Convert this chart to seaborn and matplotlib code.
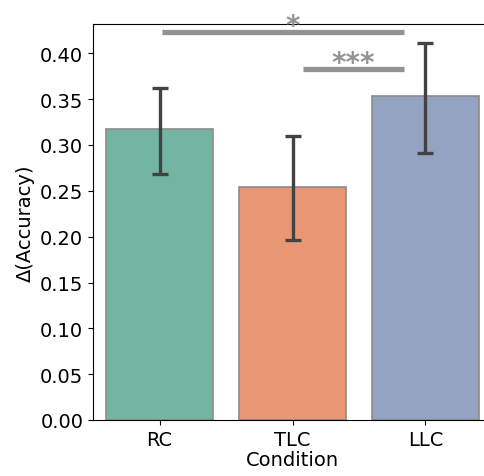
import matplotlib
matplotlib.use('Agg')
import matplotlib.pyplot as plt
import seaborn as sns
import numpy as np

# values
conditions = ['RC', 'TLC', 'LLC']
means = [0.317, 0.254, 0.353]
ci_low = [0.268, 0.196, 0.291]
ci_high = [0.362, 0.310, 0.411]

# significance brackets: (start, end, height, label x, label)
sig_start = [0.02, 1.08]
sig_end = [1.84, 1.84]
sig_y = [0.423, 0.3826]
sig_text_x = [1.0, 1.46]
sig_label = ['*', '***']

fig = plt.figure(figsize=(4.85, 4.77), dpi=100)
ax = fig.add_axes([93 / 485, 56 / 477, 399 / 485, 396 / 477])

sns.barplot(x=conditions, y=means, hue=conditions, palette='Set2',
            errorbar=None, edgecolor='#8c8c8c', linewidth=1.2,
            legend=False, ax=ax)

xpos = np.arange(len(conditions))
yerr = [np.array(means) - np.array(ci_low), np.array(ci_high) - np.array(means)]
ax.errorbar(xpos, means, yerr=yerr, fmt='none', ecolor='#424242',
            elinewidth=2.4, capsize=6, capthick=2.4)

for x0, x1, y, tx, lab in zip(sig_start, sig_end, sig_y, sig_text_x, sig_label):
    ax.plot([x0, x1], [y, y], color='#929292', lw=3.8, solid_capstyle='butt',
            clip_on=False)
    ax.text(tx, y - 0.008, lab, ha='center', va='bottom', fontsize=20,
            fontweight='bold', color='#929292', clip_on=False)

ax.set_xlim(-0.5, 2.5)
ax.set_ylim(0, 0.432)
ax.set_yticks(np.arange(0, 0.41, 0.05))
ax.set_yticklabels([f'{v:.2f}' for v in np.arange(0, 0.41, 0.05)])
ax.tick_params(labelsize=14)
ax.set_xlabel('Condition', fontsize=14, labelpad=1)
ax.set_ylabel('Δ(Accuracy)', fontsize=14)

plt.savefig('out.png', dpi=100)
